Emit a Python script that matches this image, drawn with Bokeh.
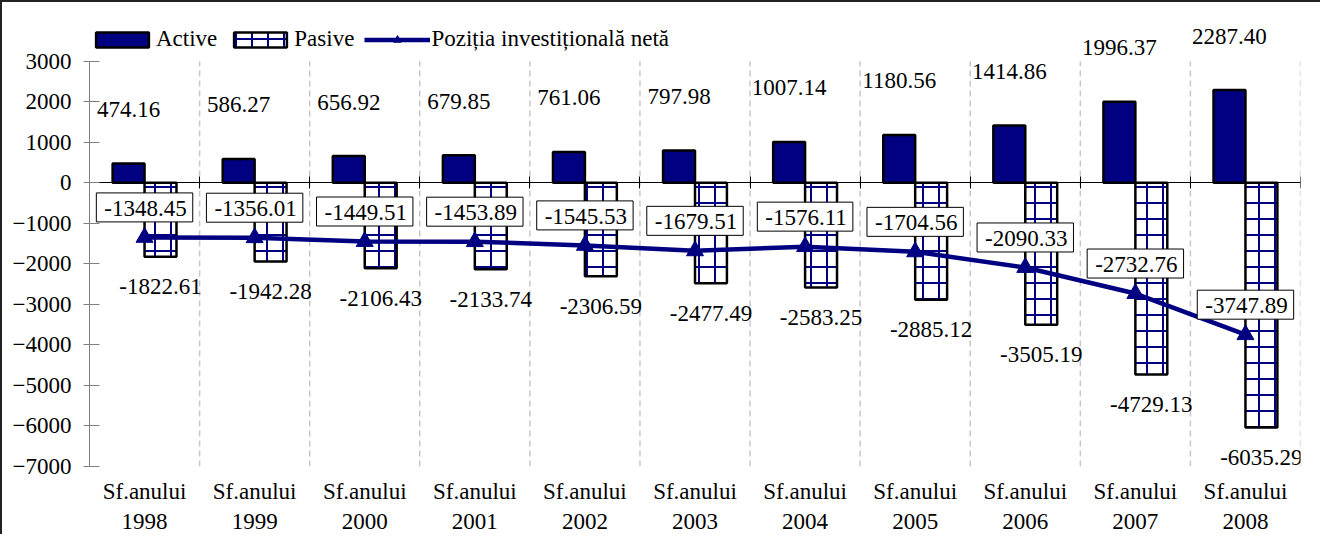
from bokeh.plotting import figure
from bokeh.models import (Range1d, LinearAxis, FixedTicker, ColumnDataSource, LabelSet,
                          Label, Legend, LegendItem)
from bokeh.transform import dodge
from bokeh.core.properties import value
from bokeh.embed import file_html
from bokeh.resources import INLINE

# ---- data ----
categories = ["1998", "1999", "2000", "2001", "2002", "2003", "2004", "2005", "2006", "2007", "2008"]
tick_prefix = "Sf.anului"
active = [474.16, 586.27, 656.92, 679.85, 761.06, 797.98, 1007.14, 1180.56, 1414.86, 1996.37, 2287.40]
pasive = [-1822.61, -1942.28, -2106.43, -2133.74, -2306.59, -2477.49, -2583.25, -2885.12, -3505.19, -4729.13, -6035.29]
net = [-1348.45, -1356.01, -1449.51, -1453.89, -1545.53, -1679.51, -1576.11, -1704.56, -2090.33, -2732.76, -3747.89]
y_ticks = [3000, 2000, 1000, 0, -1000, -2000, -3000, -4000, -5000, -6000, -7000]
series_names = ["Active", "Pasive", "Poziția investițională netă"]

FONT = "Liberation Serif"
FS = "23px"
NAVY = "#000080"
n = len(categories)
bw = 0.29
y_lo, y_hi = min(y_ticks), max(y_ticks)
legend_room = 830  # extra headroom (data units) above the top tick for the legend

src = ColumnDataSource(dict(
    x=[i + 0.5 for i in range(n)],
    active=active, pasive=pasive, net=net,
    active_txt=[f"{v:.2f}" for v in active],
    pasive_txt=[f"{v:.2f}" for v in pasive],
))
sep = ColumnDataSource(dict(x=list(range(1, n + 1)),
                            y0=[y_lo] * n, y1=[y_hi] * n))

p = figure(width=1320, height=534, output_backend="svg", toolbar_location=None,
           x_range=Range1d(0, n), y_range=Range1d(y_lo, y_hi + legend_room),
           x_axis_location=None, y_axis_location=None,
           min_border_left=87, min_border_right=22, min_border_top=25, min_border_bottom=66)
p.outline_line_color = None
p.background_fill_color = "white"
p.border_fill_color = "white"
p.styles = {"border-top": "2px solid #222", "border-left": "2px solid #222"}

p.xgrid.visible = False
p.ygrid.visible = False

# dashed category separators
p.segment(x0="x", y0="y0", x1="x", y1="y1", source=sep,
          line_color="#c8c8c8", line_dash="6 4", line_width=1.5)

# y axis
yax = LinearAxis(ticker=FixedTicker(ticks=y_ticks), bounds=(y_lo, y_hi),
                 axis_line_color="#808080",
                 major_tick_line_color="#808080", major_tick_in=10, major_tick_out=6,
                 minor_tick_line_color=None, major_label_text_font=FONT,
                 major_label_text_font_size=FS, major_label_text_color="black",
                 major_label_standoff=12)
p.add_layout(yax, "left")

# bottom category labels
xax = LinearAxis(ticker=FixedTicker(ticks=[i + 0.5 for i in range(n)]),
                 major_label_overrides={i + 0.5: f"{tick_prefix}\n{c}" for i, c in enumerate(categories)},
                 axis_line_color=None, major_tick_line_color=None, minor_tick_line_color=None,
                 major_label_text_font=FONT, major_label_text_font_size=FS,
                 major_label_text_color="black", major_label_standoff=6)
p.add_layout(xax, "below")

# zero axis line with boundary ticks
zax = LinearAxis(fixed_location=0, ticker=FixedTicker(ticks=list(range(0, n + 1))),
                 axis_line_color="black", axis_line_width=1,
                 major_tick_line_color="black", major_tick_in=6, major_tick_out=6,
                 minor_tick_line_color=None, major_label_text_font_size="0px",
                 major_label_text_alpha=0, major_label_standoff=0)
p.add_layout(zax, "below")

# bars
r_act = p.vbar(x=dodge("x", -bw / 2), top="active", bottom=0, width=bw, source=src,
               fill_color=NAVY, line_color="black", line_width=2.5)
r_pas = p.vbar(x=dodge("x", bw / 2), top=0, bottom="pasive", width=bw, source=src,
               fill_color="white", line_color="black", line_width=2.5,
               hatch_pattern="+", hatch_color=NAVY, hatch_scale=16, hatch_weight=2)

# net line
r_line = p.line(x="x", y="net", source=src, line_color=NAVY, line_width=4.5)
r_pts = p.scatter(x="x", y="net", source=src, marker="triangle", size=17,
                  fill_color=NAVY, line_color=NAVY)

# labels
p.add_layout(LabelSet(x=dodge("x", -bw / 2), y="active", text="active_txt", source=src,
                      y_offset=54, text_align="center", text_baseline="middle",
                      text_font=value(FONT), text_font_size=value(FS), text_color="black"))
p.add_layout(LabelSet(x=dodge("x", bw / 2), y="pasive", text="pasive_txt", source=src,
                      y_offset=-30, text_align="center", text_baseline="middle",
                      text_font=value(FONT), text_font_size=value(FS), text_color="black"))
for i, v in enumerate(net):
    p.add_layout(Label(x=i + 0.5, y=v, text=f"{v:.2f}", y_offset=30,
                       text_align="center", text_baseline="middle",
                       text_font=FONT, text_font_size=FS, text_color="black",
                       background_fill_color="white", border_line_color="black",
                       border_line_width=1, padding=(8, 6, 8, 6)))

legend = Legend(items=[LegendItem(label=series_names[0], renderers=[r_act]),
                       LegendItem(label=series_names[1], renderers=[r_pas]),
                       LegendItem(label=series_names[2], renderers=[r_line, r_pts])],
                orientation="horizontal", location=(0, 414),
                border_line_color=None, background_fill_alpha=0, padding=0, margin=0,
                spacing=10, label_standoff=1, glyph_width=66, glyph_height=19,
                label_text_font=FONT, label_text_font_size=FS, label_text_color="black")
p.add_layout(legend)

open("out.html", "w").write(file_html(p, INLINE))
